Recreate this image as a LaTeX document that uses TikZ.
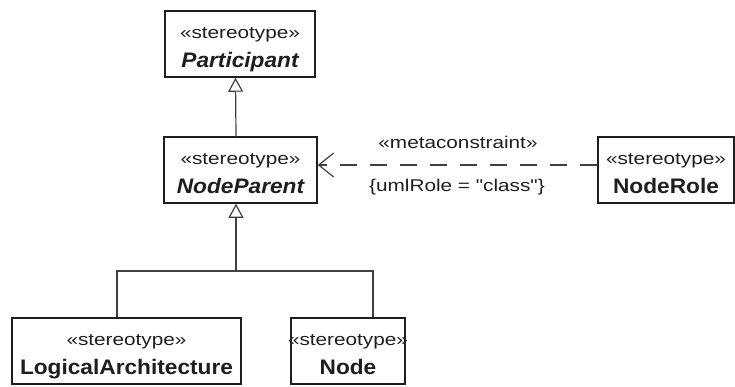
\documentclass[tikz,border=0pt]{standalone}
\usepackage{fontspec}
\setmainfont{Liberation Sans}
\newfontfamily\stfont{Liberation Sans}[FakeStretch=1.22]
\newfontfamily\nmfont{Liberation Sans}[FakeStretch=1.08]
\usetikzlibrary{arrows.meta,positioning}
\definecolor{cink}{HTML}{1E1E1E}
\definecolor{cline}{HTML}{404040}
\newcommand{\stereo}[1]{\makebox[0pt]{\stfont\fontsize{17}{29}\selectfont «#1»}}
\newcommand{\cname}[1]{{\nmfont\fontsize{21}{29}\selectfont\bfseries #1}}
\tikzset{
  >={Triangle[open,length=14pt,width=15pt]},
  umlbox/.style={draw=cink,line width=1.5pt,align=center,text=cink,fill=white,
                 minimum width=#1,minimum height=66pt,inner sep=0pt,
                 text height=47pt,text depth=0pt},
  gen/.style={draw=cline,line width=1.2pt},
  dep/.style={draw=cline,line width=1.2pt,dash pattern=on 17pt off 13pt,
              -{Straight Barb[length=15pt,width=24pt]}},
  lbl/.style={text=cink,font=\stfont\fontsize{17}{20}\selectfont},
}
\begin{document}
\begin{tikzpicture}[x=1pt,y=-1pt,font=\fontsize{20}{29}\selectfont]
\useasboundingbox (0,0) rectangle (735,386);

\node[umlbox=150pt] (part) at (240,44) {\stereo{stereotype}\\\cname{\itshape Participant}};
\node[umlbox=153pt] (npar) at (240.5,170) {\stereo{stereotype}\\\cname{\itshape NodeParent}};
\node[umlbox=136pt] (nrole) at (666,170) {\stereo{stereotype}\\\cname{NodeRole}};
\node[umlbox=229pt] (logarch) at (126.5,351) {\stereo{stereotype}\\\cname{LogicalArchitecture}};
\node[umlbox=114pt] (node) at (348,351) {\stereo{stereotype}\\\cname{Node}};

% generalizations
\draw[gen,->] ([xshift=-4.5pt]npar.north) -- ([xshift=-4.5pt]part.south);
\coordinate (jn) at (236,271);
\draw[gen,->] (jn) -- (jn |- npar.south);
\draw[gen] ([xshift=-9.5pt]logarch.north) |- (jn) -| ([xshift=25pt]node.north);

% metaconstraint
\draw[dep] ([yshift=5pt]nrole.west) -- ([yshift=5pt]npar.east);
\node[lbl] (mc) at (458,142) {«metaconstraint»};
\node[lbl] (role) at (457,187) {\{umlRole = "class"\}};

\end{tikzpicture}
\end{document}
